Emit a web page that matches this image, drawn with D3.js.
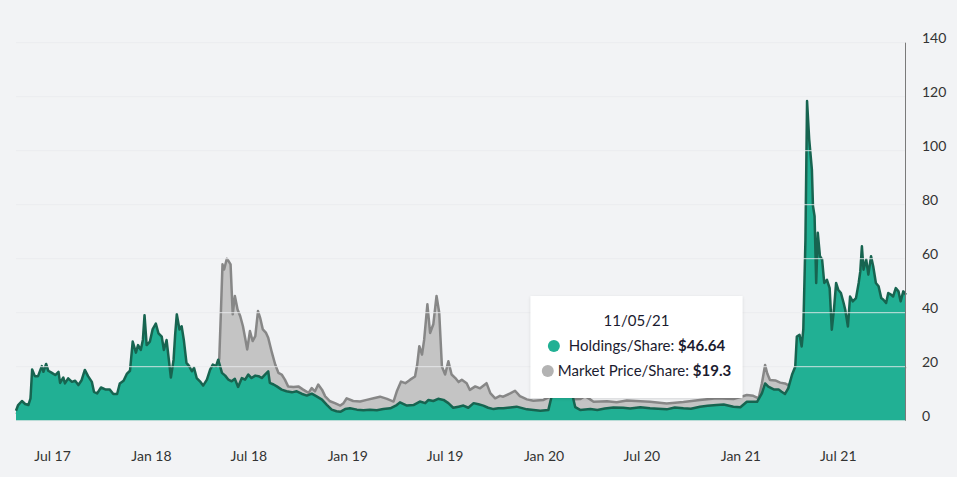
<!DOCTYPE html>
<html lang="en">
<head>
    <meta charset="UTF-8">
    <script src="https://d3js.org/d3.v7.min.js"></script>
    <title>holdings vs market</title>
    <style>
        body { margin: 0; background: #f2f3f5; }
        svg { display: block; font-family: Lato, "Open Sans", sans-serif; }
    </style>
</head>
<body>
    <script>
        // Holdings/Share (green)
        const holdDates = [
            '2017-04-25','2017-04-29','2017-05-06','2017-05-12','2017-05-18','2017-05-22','2017-05-25','2017-05-30',
            '2017-06-05','2017-06-12','2017-06-15','2017-06-20','2017-06-24','2017-06-30','2017-07-07','2017-07-13',
            '2017-07-16','2017-07-22','2017-07-25','2017-07-31','2017-08-07','2017-08-13','2017-08-19','2017-08-25',
            '2017-08-31','2017-09-06','2017-09-13','2017-09-17','2017-09-23','2017-09-30','2017-10-08','2017-10-16',
            '2017-10-23','2017-10-30','2017-11-04','2017-11-11','2017-11-17','2017-11-23','2017-11-28','2017-12-04',
            '2017-12-08','2017-12-13','2017-12-17','2017-12-20','2017-12-24','2017-12-30','2018-01-04','2018-01-10',
            '2018-01-15','2018-01-21','2018-01-25','2018-01-30','2018-02-04','2018-02-07','2018-02-12','2018-02-15',
            '2018-02-18','2018-02-23','2018-02-27','2018-03-03','2018-03-08','2018-03-13','2018-03-18','2018-03-22',
            '2018-03-27','2018-04-02','2018-04-08','2018-04-15','2018-04-21','2018-04-26','2018-05-02','2018-05-06',
            '2018-05-13','2018-05-19','2018-05-25','2018-05-31','2018-06-06','2018-06-12','2018-06-19','2018-06-25',
            '2018-07-01','2018-07-07','2018-07-14','2018-07-20','2018-07-26','2018-08-01','2018-08-07','2018-08-10',
            '2018-08-17','2018-08-23','2018-09-01','2018-09-10','2018-09-20','2018-09-29','2018-10-08','2018-10-18',
            '2018-10-27','2018-11-05','2018-11-15','2018-11-24','2018-12-03','2018-12-12','2018-12-19','2018-12-28',
            '2019-01-06','2019-01-19','2019-01-31','2019-02-12','2019-02-25','2019-03-09','2019-03-22','2019-04-03',
            '2019-04-09','2019-04-22','2019-05-04','2019-05-16','2019-05-26','2019-06-01','2019-06-10','2019-06-19',
            '2019-06-29','2019-07-08','2019-07-17','2019-07-27','2019-08-05','2019-08-14','2019-08-24','2019-09-02',
            '2019-09-11','2019-09-20','2019-09-30','2019-10-09','2019-10-18','2019-11-12','2019-12-01','2019-12-26',
            '2020-01-10','2020-01-16','2020-01-24','2020-02-10','2020-02-23','2020-02-29','2020-03-09','2020-03-28',
            '2020-04-10','2020-04-24','2020-05-10','2020-05-28','2020-06-10','2020-06-29','2020-07-17','2020-08-01',
            '2020-08-17','2020-09-01','2020-09-17','2020-10-01','2020-10-18','2020-11-01','2020-11-18','2020-12-01',
            '2020-12-19','2021-01-01','2021-01-13','2021-02-01','2021-02-10','2021-02-16','2021-02-22','2021-03-04',
            '2021-03-13','2021-03-18','2021-03-25','2021-03-31','2021-04-07','2021-04-13','2021-04-16','2021-04-21',
            '2021-04-25','2021-04-28','2021-05-02','2021-05-05','2021-05-09','2021-05-14','2021-05-16','2021-05-19',
            '2021-05-22','2021-05-25','2021-05-29','2021-06-02','2021-06-06','2021-06-11','2021-06-16','2021-06-20',
            '2021-06-24','2021-06-28','2021-07-02','2021-07-07','2021-07-12','2021-07-15','2021-07-20','2021-07-24',
            '2021-07-29','2021-08-04','2021-08-09','2021-08-12','2021-08-15','2021-08-18','2021-08-23','2021-08-27',
            '2021-09-01','2021-09-05','2021-09-10','2021-09-15','2021-09-20','2021-09-24','2021-09-29','2021-10-03',
            '2021-10-08','2021-10-12','2021-10-17','2021-10-22','2021-10-26','2021-10-31','2021-11-05'
        ];
        const holdValues = [
            3.7, 5.8, 7.3, 6.2, 5.8, 8.3, 19, 16.5,
            16.5, 20.2, 18.1, 21, 18.5, 17.8, 16.9, 18.1,
            14, 16, 13.8, 15.7, 14.4, 14.8, 13.2, 15,
            18.8, 16.5, 14.4, 10.7, 10.1, 12.3, 11.6, 11.6,
            9.9, 9.9, 13.8, 14.8, 17.3, 18.5, 29.3, 25.2,
            28, 26.2, 30, 39.1, 28, 29.3, 33.8, 36,
            32.3, 31.1, 26.2, 29.9, 21.2, 16, 22.5, 32,
            39.4, 33.8, 35, 30, 21.4, 20.2, 18.3, 19.6,
            15.8, 14.6, 13, 15.2, 18.9, 20.8, 20.2, 22.6,
            17.7, 16.7, 15.2, 14.6, 15.5, 12.5, 15.8, 15.2,
            17.1, 15.8, 16.7, 16.5, 15.8, 17.1, 18.3, 14,
            13.4, 12.7, 11.5, 10.9, 10.5, 10.9, 10, 9.3,
            10, 9, 7.8, 5.9, 4.1, 3.5, 3.3, 4.3,
            4.6, 4.1, 3.9, 4.1, 3.9, 4.3, 4.6, 5.8,
            6.8, 5.6, 5.8, 7.1, 6.5, 7.7, 7.3, 8.1,
            7.7, 6.5, 4.8, 5.2, 5.6, 4.8, 6.5, 6.1,
            5.6, 4.8, 4.3, 4.6, 4.6, 5.2, 4.2, 3.7,
            4, 9, 11, 11.5, 10, 5, 4, 4.3,
            4, 4.5, 4.9, 4.8, 4.5, 5, 4.6, 4.4,
            4.2, 4.9, 4.6, 4.4, 5.2, 5.5, 5.8, 6,
            5.2, 5, 7, 7, 10.1, 13.8, 12.6, 11.6,
            11.6, 10.8, 9.9, 12, 17, 20, 31.2, 31.8,
            27.5, 33.7, 67, 118.4, 104.2, 93, 79.5, 75.7,
            51, 69.6, 60.9, 59.7, 51, 52.2, 49.1, 33.7,
            41.1, 51, 48.5, 47.3, 43.6, 41.1, 34.9, 46,
            44.2, 45.4, 51, 55.3, 64.6, 55.9, 59.7, 54.1,
            60.9, 57.2, 51, 49.8, 45.4, 44.8, 43.6, 47.3,
            46.7, 46, 49.1, 47.9, 44.2, 47.9, 46.64
        ];

        // Market Price/Share (grey)
        const marketDates = [
            '2017-04-25','2017-05-22','2017-05-25','2017-06-20','2017-08-01','2017-09-17','2017-10-30','2017-11-23',
            '2017-11-28','2017-12-20','2018-01-10','2018-02-07','2018-02-18','2018-03-13','2018-04-08','2018-05-02',
            '2018-05-06','2018-05-08','2018-05-11','2018-05-14','2018-05-17','2018-05-22','2018-05-25','2018-05-29',
            '2018-06-02','2018-06-06','2018-06-11','2018-06-16','2018-06-21','2018-06-25','2018-06-29','2018-07-04',
            '2018-07-09','2018-07-14','2018-07-19','2018-07-23','2018-07-28','2018-08-03','2018-08-07','2018-08-14',
            '2018-08-20','2018-08-26','2018-09-01','2018-09-07','2018-09-13','2018-09-23','2018-10-02','2018-10-11',
            '2018-10-21','2018-10-27','2018-11-02','2018-11-08','2018-11-15','2018-11-21','2018-11-30','2018-12-09',
            '2018-12-19','2018-12-25','2018-12-31','2019-01-12','2019-01-25','2019-02-06','2019-02-19','2019-03-03',
            '2019-03-16','2019-03-28','2019-04-03','2019-04-11','2019-04-19','2019-04-28','2019-05-07','2019-05-11',
            '2019-05-15','2019-05-20','2019-05-24','2019-05-30','2019-06-04','2019-06-10','2019-06-16','2019-06-21',
            '2019-06-26','2019-07-02','2019-07-08','2019-07-14','2019-07-21','2019-07-27','2019-08-02','2019-08-11',
            '2019-08-17','2019-08-27','2019-09-05','2019-09-17','2019-09-24','2019-10-03','2019-10-12','2019-10-18',
            '2019-10-31','2019-11-09','2019-11-18','2019-12-01','2019-12-13','2020-01-01','2020-01-13','2020-01-24',
            '2020-02-10','2020-02-23','2020-02-29','2020-03-09','2020-03-18','2020-04-03','2020-04-28','2020-05-16',
            '2020-06-04','2020-06-29','2020-07-17','2020-08-17','2020-09-17','2020-10-18','2020-11-18','2020-12-19',
            '2021-01-13','2021-01-25','2021-02-04','2021-02-10','2021-02-16','2021-02-20','2021-02-25','2021-03-07',
            '2021-03-16','2021-03-25','2021-03-31','2021-04-07','2021-04-16','2021-04-28','2021-05-05','2021-06-01',
            '2021-07-01','2021-08-15','2021-09-15','2021-10-15','2021-11-05'
        ];
        const marketValues = [
            2.5, 6, 14, 15, 12, 8.5, 8, 14,
            20, 24, 24, 13, 30, 17, 11, 18,
            21, 23, 40, 57.9, 56, 60, 59.2, 57.9,
            39.4, 46.2, 41.2, 38.7, 35, 30.7, 26.4, 33.2,
            29.5, 31.3, 40.6, 38.1, 33.8, 32.5, 30.7, 25.1,
            20.8, 17.7, 17.1, 15.2, 12.7, 12.5, 12.7, 11.5,
            10.3, 12.1, 10.9, 13.4, 11.5, 9, 7.2, 6.5,
            5.6, 6.5, 8.3, 7.3, 7.1, 7.7, 8.3, 8.9,
            8.1, 7.1, 10.8, 14.5, 13.9, 15.2, 16.4, 20.7,
            27.6, 24.5, 30, 43.1, 32.5, 35.7, 46.2, 40,
            20.1, 17.1, 22, 17.1, 15.8, 14.3, 15.2, 13.9,
            11.4, 12.7, 12, 13.9, 10.2, 8.3, 9.2, 8.9,
            10.1, 11.1, 9.1, 7.9, 7.4, 7.7, 8.9, 8,
            8.5, 8.5, 7.9, 8, 9.2, 7, 7.2, 6.8,
            7.5, 7.2, 7, 6.4, 6.9, 7.7, 8.3, 8,
            9.5, 9.2, 8.3, 13.8, 20.6, 17.5, 15.1, 14.9,
            14.1, 13.8, 13.2, 14, 20, 25, 45, 35,
            28, 30, 25, 21, 19.3
        ];

        const yTicks = [0, 20, 40, 60, 80, 100, 120, 140];

        // tooltip content (last point)
        const tipDate = '11/05/21';
        const tipHold = '$46.64';
        const tipMarket = '$19.3';

        let width = 957;
        let height = 477;
        let plotLeft = 16, plotRight = 906, plotTop = 42.7, plotBottom = 420.7;

        const parse = d3.timeParse('%Y-%m-%d');
        const hold = holdDates.map((d, i) => ({ date: parse(d), value: holdValues[i] }));
        const market = marketDates.map((d, i) => ({ date: parse(d), value: marketValues[i] }));

        let x = d3.scaleTime()
            .domain([parse('2017-04-25'), parse('2021-11-05')])
            .range([plotLeft, plotRight]);
        let y = d3.scaleLinear()
            .domain([0, 140])
            .range([plotBottom, plotTop]);

        var svg = d3.select('body')
            .append('svg')
            .attr('width', width)
            .attr('height', height);

        let area = d3.area()
            .x(d => x(d.date))
            .y0(y(0))
            .y1(d => y(d.value));
        let line = d3.line()
            .x(d => x(d.date))
            .y(d => y(d.value));

        // market first, holdings on top
        svg.append('path').datum(market)
            .attr('d', area)
            .attr('fill', '#c4c4c4');
        svg.append('path').datum(market)
            .attr('d', line)
            .attr('fill', 'none')
            .attr('stroke', '#878787')
            .attr('stroke-width', 2.5)
            .attr('stroke-linejoin', 'round');

        svg.append('path').datum(hold)
            .attr('d', area)
            .attr('fill', '#21b094');
        svg.append('path').datum(hold)
            .attr('d', line)
            .attr('fill', 'none')
            .attr('stroke', '#176450')
            .attr('stroke-width', 2.5)
            .attr('stroke-linejoin', 'round');

        // gridlines over the areas
        svg.append('g')
            .selectAll('line')
            .data(yTicks)
            .enter()
            .append('line')
            .attr('x1', plotLeft)
            .attr('x2', plotRight)
            .attr('y1', d => y(d))
            .attr('y2', d => y(d))
            .attr('stroke', '#eaebee')
            .attr('stroke-opacity', 0.85)
            .attr('stroke-width', 1);

        // y axis on the right
        let yAxis = svg.append('g')
            .attr('transform', 'translate(' + plotRight + ',0)')
            .call(d3.axisRight(y).tickValues(yTicks).tickSize(0).tickPadding(16));
        yAxis.select('.domain').remove();
        yAxis.selectAll('text')
            .attr('dy', '-0.0em')
            .attr('fill', '#333')
            .style('font-size', '14px')
            .style('font-family', 'Lato, sans-serif');

        // x axis
        let xAxis = svg.append('g')
            .attr('transform', 'translate(0,' + plotBottom + ')')
            .call(d3.axisBottom(x)
                .ticks(d3.timeMonth.every(6))
                .tickFormat(d3.timeFormat('%b %y'))
                .tickSize(0)
                .tickPadding(30));
        xAxis.select('.domain').remove();
        xAxis.selectAll('text')
            .attr('fill', '#333')
            .style('font-size', '14px')
            .style('font-family', 'Lato, sans-serif');

        // hover line at last point
        svg.append('line')
            .attr('x1', x(parse('2021-11-05')) - 0.5)
            .attr('x2', x(parse('2021-11-05')) - 0.5)
            .attr('y1', plotTop)
            .attr('y2', plotBottom)
            .attr('stroke', '#7a7a7a')
            .attr('stroke-width', 1);

        // tooltip
        let defs = svg.append('defs');
        let filter = defs.append('filter').attr('id', 'shadow')
            .attr('x', '-10%').attr('y', '-10%').attr('width', '120%').attr('height', '130%');
        filter.append('feDropShadow')
            .attr('dx', 0).attr('dy', 1).attr('stdDeviation', 1.5)
            .attr('flood-color', '#000').attr('flood-opacity', 0.12);

        let tip = svg.append('g').attr('transform', 'translate(530.5,296)');
        let tipW = 212, tipH = 102;
        tip.append('rect')
            .attr('width', tipW)
            .attr('height', tipH)
            .attr('fill', '#fff')
            .attr('filter', 'url(#shadow)');

        tip.append('text')
            .attr('x', tipW / 2)
            .attr('y', 30)
            .attr('text-anchor', 'middle')
            .attr('fill', '#1b1b2f')
            .style('font-size', '15px')
            .text(tipDate);

        const rows = [
            { label: 'Holdings/Share: ', value: tipHold, color: '#21b094', y: 55, gap: 9 },
            { label: 'Market Price/Share: ', value: tipMarket, color: '#b3b3b3', y: 80, gap: 4 }
        ];
        rows.forEach(r => {
            let g = tip.append('g');
            let t = g.append('text')
                .attr('y', r.y)
                .attr('fill', '#1b1b2f')
                .style('font-size', '15px');
            t.append('tspan').text(r.label);
            t.append('tspan').attr('font-weight', 'bold').text(r.value);
            let tw = t.node().getComputedTextLength();
            let total = 12 + r.gap + tw;
            let x0 = (tipW - total) / 2;
            g.append('circle')
                .attr('cx', x0 + 6)
                .attr('cy', r.y - 5)
                .attr('r', 6)
                .attr('fill', r.color);
            t.attr('x', x0 + 12 + r.gap);
        });
    </script>
</body>
</html>
